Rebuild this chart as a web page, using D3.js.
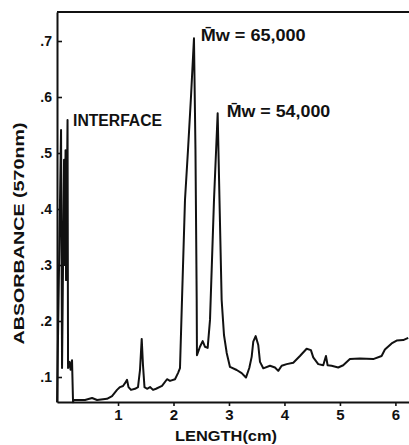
<!DOCTYPE html>
<html>
<head>
<meta charset="utf-8">
<script src="https://cdn.jsdelivr.net/npm/d3@7/dist/d3.min.js"></script>
<style>
  html, body { margin: 0; padding: 0; background: #fff; }
  svg { display: block; }
  text { font-family: "Liberation Sans", Arial, sans-serif; font-weight: bold; fill: #111; }
</style>
</head>
<body>
<svg id="chart" width="409" height="445"></svg>
<script>
// ---- data ----
const lengthCm = [
  -0.099, -0.027, -0.009, 0.027, 0.036, 0.054, 0.063, 0.090, 0.099, 0.126, 0.144, 0.171, 0.189,
  0.198, 0.405, 0.532, 0.622, 0.802, 0.892, 0.982, 1.036, 1.090, 1.126, 1.162, 1.189, 1.234,
  1.306, 1.360, 1.396, 1.427, 1.450, 1.477, 1.523, 1.577, 1.631, 1.685, 1.793, 1.883, 1.937,
  2.027, 2.081, 2.117, 2.153, 2.207, 2.261, 2.315, 2.369, 2.396, 2.418, 2.423, 2.477, 2.526,
  2.568, 2.616, 2.658, 2.730, 2.796, 2.829, 2.868, 2.910, 2.959, 3.018, 3.139, 3.229, 3.306,
  3.366, 3.409, 3.438, 3.481, 3.528, 3.559, 3.618, 3.739, 3.829, 3.888, 3.950, 4.040, 4.159,
  4.279, 4.400, 4.477, 4.519, 4.609, 4.699, 4.748, 4.778, 4.850, 4.969, 5.059, 5.180, 5.360,
  5.600, 5.751, 5.811, 5.932, 6.022, 6.141, 6.231
];
const absorbance = [
  0.055, 0.541, 0.116, 0.488, 0.300, 0.505, 0.273, 0.559, 0.116, 0.127, 0.113, 0.130, 0.055,
  0.059, 0.059, 0.0625, 0.059, 0.061, 0.066, 0.077, 0.082, 0.084, 0.089, 0.095, 0.082, 0.077,
  0.079, 0.082, 0.1125, 0.168, 0.121, 0.082, 0.079, 0.082, 0.077, 0.079, 0.084, 0.096, 0.093,
  0.096, 0.107, 0.116, 0.2375, 0.416, 0.505, 0.600, 0.705, 0.505, 0.2375, 0.139, 0.154, 0.164,
  0.154, 0.152, 0.202, 0.416, 0.571, 0.416, 0.2375, 0.175, 0.143, 0.118, 0.1125, 0.107, 0.099,
  0.116, 0.136, 0.163, 0.173, 0.157, 0.127, 0.1155, 0.120, 0.117, 0.111, 0.120, 0.123, 0.1255,
  0.1375, 0.1505, 0.148, 0.135, 0.123, 0.121, 0.1375, 0.121, 0.120, 0.117, 0.121, 0.132, 0.133,
  0.132, 0.1375, 0.149, 0.160, 0.165, 0.166, 0.170
];
const yTicks = [0.1, 0.2, 0.3, 0.4, 0.5, 0.6, 0.7];
const xTicks = [1, 2, 3, 4, 5, 6];
const yTitle = "ABSORBANCE (570nm)";
const xTitle = "LENGTH(cm)";
const annotations = [
  { text: "INTERFACE", x: 0.189, y: 0.549 },
  { text: "M\u0304w = 65,000", x: 2.49, y: 0.7005 },
  { text: "M\u0304w = 54,000", x: 2.959, y: 0.565 }
];

// ---- layout ----
const svg = d3.select("#chart");
const mLeft = 57, mRight = 409, mTop = 12, mBottom = 402;
const x = d3.scaleLinear().domain([-0.1, 6.245]).range([mLeft, mRight]);
const y = d3.scaleLinear().domain([0.05536, 0.7518]).range([mBottom, mTop]);

// top frame line
svg.append("line")
  .attr("x1", mLeft).attr("x2", mRight).attr("y1", mTop).attr("y2", mTop)
  .attr("stroke", "#111").attr("stroke-width", 2);

// y axis (inward ticks)
const yAxis = svg.append("g")
  .attr("transform", `translate(${mLeft},0)`)
  .call(d3.axisLeft(y).tickValues(yTicks).tickSize(-5).tickSizeOuter(0).tickPadding(5)
    .tickFormat(d => d3.format(".1f")(d).replace(/^0/, "")));
yAxis.select(".domain").attr("stroke", "#111").attr("stroke-width", 2);
yAxis.selectAll(".tick line").attr("stroke", "#111").attr("stroke-width", 1.6);
yAxis.selectAll(".tick text")
  .style("font-family", '"Liberation Sans", Arial, sans-serif')
  .style("font-weight", "bold").style("font-size", "14px").attr("fill", "#111");

// x axis
const xAxis = svg.append("g")
  .attr("transform", `translate(0,${mBottom})`)
  .call(d3.axisBottom(x).tickValues(xTicks).tickSize(4).tickSizeOuter(0).tickPadding(3)
    .tickFormat(d3.format("d")));
xAxis.select(".domain").attr("stroke", "#111").attr("stroke-width", 2);
xAxis.selectAll(".tick line").attr("stroke", "#111").attr("stroke-width", 1.6);
xAxis.selectAll(".tick text")
  .style("font-family", '"Liberation Sans", Arial, sans-serif')
  .style("font-weight", "bold").style("font-size", "15px").attr("fill", "#111");

// trace
const pts = lengthCm.map((d, i) => [d, absorbance[i]]);
svg.append("path")
  .datum(pts)
  .attr("fill", "none")
  .attr("stroke", "#111")
  .attr("stroke-width", 2)
  .attr("stroke-linejoin", "round")
  .attr("d", d3.line().x(d => x(d[0])).y(d => y(d[1])));

// annotations
const annWidths = [89, 105, 103.5];
svg.selectAll("text.ann")
  .data(annotations)
  .join("text")
  .attr("class", "ann")
  .attr("x", d => x(d.x))
  .attr("y", d => y(d.y))
  .attr("font-size", 16)
  .attr("textLength", (d, i) => annWidths[i])
  .attr("lengthAdjust", "spacingAndGlyphs")
  .text(d => d.text);

// axis titles
svg.append("text")
  .attr("transform", "translate(24,233.5) rotate(-90)")
  .attr("text-anchor", "middle")
  .attr("font-size", 15)
  .attr("textLength", 222)
  .attr("lengthAdjust", "spacingAndGlyphs")
  .text(yTitle);

svg.append("text")
  .attr("x", 226)
  .attr("y", 441)
  .attr("text-anchor", "middle")
  .attr("font-size", 15)
  .attr("textLength", 102)
  .attr("lengthAdjust", "spacingAndGlyphs")
  .text(xTitle);
</script>
</body>
</html>
